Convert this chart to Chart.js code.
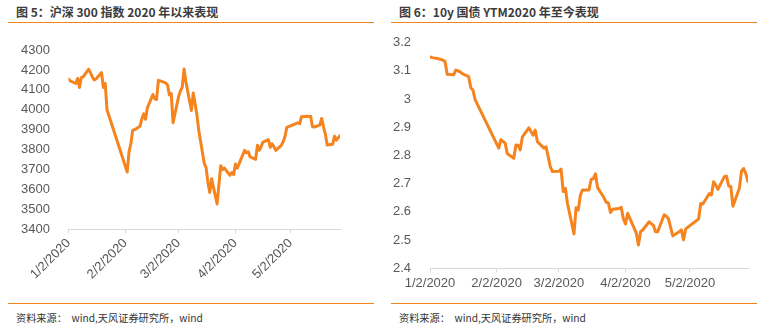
<!DOCTYPE html>
<html><head><meta charset="utf-8">
<script src="https://cdn.jsdelivr.net/npm/chart.js@4.4.1/dist/chart.umd.min.js"></script>
<style>
html,body{margin:0;padding:0;background:#fff;width:760px;height:333px;overflow:hidden;position:relative;font-family:"Noto Sans CJK SC","Liberation Sans",sans-serif}
.title{position:absolute;top:3px;font-weight:bold;font-size:12px;color:#3c3c3c;line-height:18px;white-space:nowrap}
.rule{position:absolute;height:1px;background:#F0851E}
.src{position:absolute;top:310px;font-size:10.2px;color:#333;line-height:16px;white-space:nowrap}
canvas{position:absolute;top:0}
</style></head><body>
<div class="title" style="left:16px">图 5：沪深 300 指数 2020 年以来表现</div>
<div class="title" style="left:399px">图 6：10y 国债 YTM2020 年至今表现</div>
<div class="rule" style="left:8px;width:366px;top:22px"></div>
<div class="rule" style="left:391px;width:366px;top:22px"></div>
<div class="rule" style="left:8px;width:366px;top:303px"></div>
<div class="rule" style="left:391px;width:366px;top:303px"></div>
<div class="src" style="left:16px">资料来源：&nbsp;&nbsp;wind,天风证券研究所，wind</div>
<div class="src" style="left:399px">资料来源：&nbsp;&nbsp;wind,天风证券研究所，wind</div>
<canvas id="c1" width="380" height="300" style="left:0"></canvas>
<canvas id="c2" width="380" height="300" style="left:380px"></canvas>
<script>
// Trading dates (2020, M/D)
const dates = [
 "1/2","1/3","1/6","1/7","1/8","1/9","1/10","1/13","1/14","1/15","1/16","1/17","1/20","1/21","1/22","1/23",
 "2/3","2/4","2/5","2/6","2/7","2/10","2/11","2/12","2/13","2/14","2/17","2/18","2/19","2/20","2/21","2/24","2/25","2/26","2/27","2/28",
 "3/2","3/3","3/4","3/5","3/6","3/9","3/10","3/11","3/12","3/13","3/16","3/17","3/18","3/19","3/20","3/23","3/24","3/25","3/26","3/27","3/30","3/31",
 "4/1","4/2","4/3","4/7","4/8","4/9","4/10","4/13","4/14","4/15","4/16","4/17","4/20","4/21","4/22","4/23","4/24","4/27","4/28","4/29","4/30",
 "5/6","5/7","5/8","5/11","5/12","5/13","5/14","5/15","5/18","5/19","5/20","5/21","5/22","5/25","5/26","5/27","5/28","5/29"
];
// CSI 300 index close
const csi300 = [
 4155,4145,4132,4158,4112,4162,4165,4204,4185,4165,4150,4155,4187,4112,4133,4000,
 3688,3790,3830,3898,3900,3918,3955,3980,3953,4010,4077,4055,4052,4148,4145,4135,4125,4075,4082,3935,
 4065,4095,4113,4205,4140,3997,4084,4030,3975,3898,3732,3710,3636,3585,3655,3528,3625,3720,3700,3708,3672,3686,
 3675,3728,3708,3797,3785,3790,3764,3752,3822,3797,3815,3838,3850,3812,3830,3815,3797,3822,3840,3865,3912,
 3935,3930,3965,3968,3966,3968,3915,3914,3923,3957,3915,3880,3824,3827,3868,3848,3860,3870
];
// 10y government bond YTM (%)
const cgb10y = [
 3.150,3.147,3.143,3.141,3.138,3.133,3.088,3.086,3.103,3.100,3.097,3.090,3.080,3.040,3.032,2.998,
 2.826,2.856,2.850,2.843,2.806,2.790,2.837,2.836,2.820,2.866,2.898,2.885,2.872,2.890,2.849,2.826,2.831,2.796,2.760,2.743,
 2.744,2.752,2.672,2.684,2.630,2.522,2.615,2.607,2.660,2.678,2.678,2.715,2.718,2.735,2.686,2.650,2.634,2.632,2.598,2.609,2.612,2.616,
 2.575,2.557,2.595,2.525,2.483,2.530,2.536,2.565,2.558,2.552,2.530,2.530,2.590,2.585,2.575,2.545,2.515,2.530,2.536,2.501,2.540,
 2.575,2.630,2.628,2.665,2.660,2.707,2.695,2.680,2.725,2.727,2.692,2.690,2.620,2.685,2.745,2.754,2.735,2.707
];
const xTickLabels = ["1/2/2020","2/2/2020","3/2/2020","4/2/2020","5/2/2020"];
const lastDate = "5/29/2020";

const base = Date.UTC(2020,0,2);
function dayOf(s){ const p=s.split('/'); return (Date.UTC(2020,+p[0]-1,+p[1])-base)/864e5; }
const xs = dates.map(dayOf);
const tickDays = xTickLabels.map(dayOf);
const xMax = dayOf(lastDate);

const LINE = '#F5841F';
const AXIS = '#d9d9d9';
const TXT = '#595959';
const FONT = {family:'"Liberation Sans", Arial, sans-serif', size:13};

function makeChart(id, vals, o){
  const data = xs.map((x,i)=>({x, y: vals[i]}));
  return new Chart(document.getElementById(id), {
    type:'line',
    data:{datasets:[{data, borderColor:LINE, borderWidth:3, pointRadius:0, tension:0,
      borderJoinStyle:'round', borderCapStyle:'round', fill:false}]},
    options:{
      responsive:false, animation:false,
      layout:{padding:o.padding},
      plugins:{legend:{display:false}, tooltip:{enabled:false}},
      scales:{
        x:{type:'linear', min:0, max:xMax, offset:false,
          afterBuildTicks: s => { s.ticks = tickDays.map(v=>({value:v})); },
          afterFit: s => { s.height = o.xHeight; },
          grid:{drawOnChartArea:false, drawTicks:true, tickLength:4, color:AXIS},
          border:{display:true, color:AXIS, width:1},
          ticks:{autoSkip:false, minRotation:o.rot, maxRotation:o.rot, padding:o.xPad, color:TXT, font:FONT,
            callback: v => { const i = tickDays.indexOf(v); return i>=0 ? xTickLabels[i] : ''; }}
        },
        y:{min:o.ymin, max:o.ymax,
          afterFit: s => { s.width = o.yWidth; },
          grid:{display:false}, border:{display:false},
          ticks:{stepSize:o.step, padding:o.yPad, color:TXT, font:FONT, callback:o.yfmt}
        }
      }
    }
  });
}

makeChart('c1', csi300, {padding:{top:50,right:40,left:0,bottom:0}, xHeight:70.5, rot:45, xPad:2,
  ymin:3400, ymax:4300, step:100, yWidth:68.5, yPad:10.5, yfmt: v => String(Math.round(v))});
makeChart('c2', cgb10y, {padding:{top:42.7,right:12,left:0,bottom:0}, xHeight:31.7, rot:0, xPad:3,
  ymin:2.4, ymax:3.2, step:0.1, yWidth:50, yPad:11, yfmt: v => String(+v.toFixed(1))});
</script>
</body></html>
